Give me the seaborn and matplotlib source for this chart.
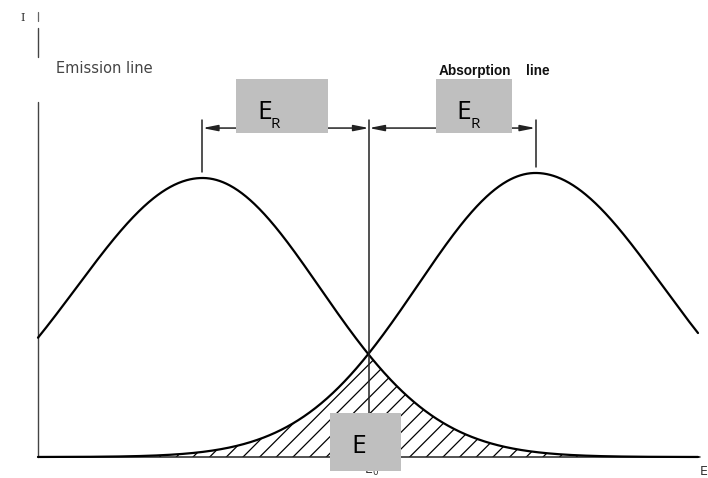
import numpy as np
import pandas as pd
import matplotlib
matplotlib.use("Agg")
import matplotlib.pyplot as plt
from matplotlib.patches import Rectangle
import seaborn as sns

# Line profiles, energies in units of the recoil energy E_R, relative to E0
line_names = ["Emission line", "Absorption line"]
line_centers = [-1.0, 1.0]
line_heights = [1.0, 1.018]
inner_widths = [0.705, 0.705]   # flank facing E0
outer_widths = [0.758, 0.758]   # flank facing away from E0
energy_range = [-1.988, 1.976]

sns.set_theme(style="white")
plt.rcParams["hatch.linewidth"] = 0.9

W, H = 708, 478
# layout helpers: figure pixels -> data units
X0, XS = 369.0, 166.5
Y0, YS = 457.0, 279.0
def ex(px):
    return (px - X0) / XS
def iy(py):
    return (Y0 - py) / YS

fig = plt.figure(figsize=(W / 100, H / 100), dpi=100)
ax = fig.add_axes([0, 0, 1, 1])
ax.set_xlim(ex(0), ex(W))
ax.set_ylim(iy(H), iy(0))
ax.axis("off")

energy = np.linspace(energy_range[0], energy_range[1], 800)
profiles = []
frames = []
for name, c, h, wi, wo in zip(line_names, line_centers, line_heights,
                               inner_widths, outer_widths):
    toward_e0 = (energy - c) * np.sign(-c) > 0
    sig = np.where(toward_e0, wi, wo)
    prof = h * np.exp(-(energy - c) ** 2 / (2 * sig ** 2))
    profiles.append(prof)
    frames.append(pd.DataFrame({"E": energy, "I": prof, "line": name}))
df = pd.concat(frames, ignore_index=True)

sns.lineplot(data=df, x="E", y="I", hue="line", palette=["black", "black"],
             linewidth=1.6, legend=False, sort=False, estimator=None, ax=ax,
             zorder=3)

# overlap region, hatched
overlap = np.minimum(profiles[0], profiles[1])
ax.fill_between(energy, 0, overlap, facecolor="none", edgecolor="black",
                hatch="//", linewidth=0, zorder=2)

# axes drawn by hand
ax.plot([energy_range[0], ex(700)], [0, 0], color="#222222", lw=1.1, zorder=2)
ax.plot([energy_range[0]] * 2, [0, iy(102)], color="#444444", lw=1.0)
ax.plot([energy_range[0]] * 2, [iy(57), iy(28)], color="#444444", lw=1.0)
ax.plot([energy_range[0]] * 2, [iy(21), iy(12)], color="#666666", lw=0.9)

# markers for E_R spacing
arrow_level = 1.179
tick_top = 1.208
for c, h in zip(line_centers, line_heights):
    ax.plot([c, c], [h + 0.021, tick_top], color="#222222", lw=1.1)
ax.plot([0, 0], [0, tick_top], color="#222222", lw=1.1, zorder=3)
for c in line_centers:
    ax.annotate("", xy=(c, arrow_level), xytext=(0, arrow_level),
                arrowprops=dict(arrowstyle="<|-|>,head_length=0.9,head_width=0.18",
                                color="#222222", lw=1.1, shrinkA=0, shrinkB=0,
                                mutation_scale=10))

# E0 label beneath the axis
ax.text(ex(364), iy(463), "E$_0$", fontsize=9, color="#333333",
        ha="left", va="top", zorder=4)

# grey label boxes
def gray_box(x0, y0, x1, y1):
    ax.add_patch(Rectangle((ex(x0), iy(y1)), ex(x1) - ex(x0), iy(y0) - iy(y1),
                           facecolor="#bfbfbf", edgecolor="none", zorder=5))

label_font = "Open Sans"
gray_box(236, 79, 328, 133)
ax.text(ex(257), iy(119), "E", fontsize=19, family=label_font, color="black",
        ha="left", va="baseline", zorder=6)
ax.text(ex(271), iy(128), "R", fontsize=11, family=label_font, color="black",
        ha="left", va="baseline", zorder=6)

gray_box(436, 79, 512, 133)
ax.text(ex(456), iy(119), "E", fontsize=19, family=label_font, color="black",
        ha="left", va="baseline", zorder=6)
ax.text(ex(471), iy(128), "R", fontsize=11, family=label_font, color="black",
        ha="left", va="baseline", zorder=6)

gray_box(330, 413, 401, 471)
ax.text(ex(351), iy(453), "E", fontsize=19, family=label_font, color="black",
        ha="left", va="baseline", zorder=6)

# captions
ax.text(ex(56), iy(73), "Emission line", fontsize=10.5, color="#444444",
        family="DejaVu Sans", ha="left", va="baseline")
ax.text(ex(439), iy(75), "Absorption", fontsize=9.8, fontweight="bold",
        family="Liberation Sans", color="#111111", ha="left", va="baseline")
ax.text(ex(526), iy(75), "line", fontsize=9.8, fontweight="bold",
        family="Liberation Sans", color="#111111", ha="left", va="baseline")
ax.text(ex(20), iy(21), "I", fontsize=8, family="DejaVu Serif",
        color="#333333", ha="left", va="baseline")
ax.text(ex(700), iy(475), "E", fontsize=9, family="DejaVu Sans",
        color="#333333", ha="left", va="baseline")

fig.savefig("out.png", dpi=100, facecolor="white")
